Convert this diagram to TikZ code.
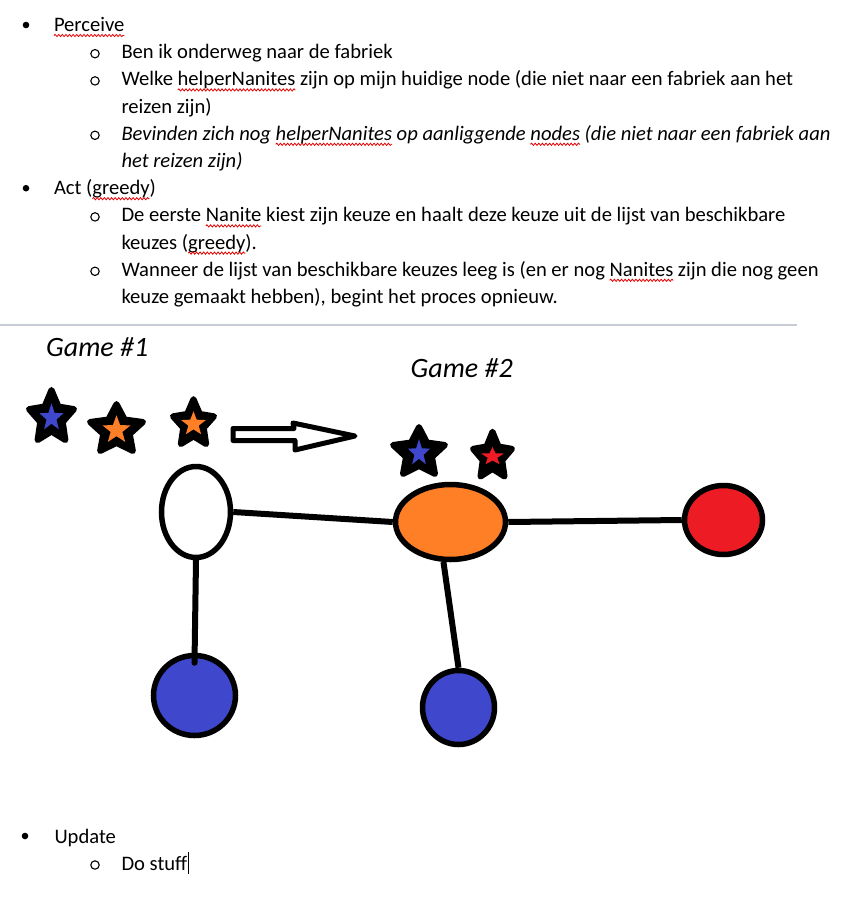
\documentclass[tikz,border=0pt]{standalone}
\usepackage{fontspec}
\setmainfont{Carlito}
\usetikzlibrary{shapes.geometric,decorations.pathmorphing}
\definecolor{pblue}{RGB}{63,72,204}
\definecolor{porange}{RGB}{255,127,39}
\definecolor{pred}{RGB}{237,28,36}
\definecolor{rulegray}{RGB}{200,205,213}
\definecolor{wavered}{RGB}{230,0,0}
\newcommand\bodyfont{\fontsize{20.6}{24}\selectfont}
\newcommand\ibodyfont{\fontsize{20.6}{24}\selectfont\itshape}
% cx cy R yscale r yscale-inner colour
\newcommand\nstar[7]{%
  \begin{scope}[shift={(#1,#2)}]
    \filldraw[black, line width=6pt, line join=round, yscale=#4]
      (-90:#3) -- (-54:{0.5*#3}) -- (-18:#3) -- (18:{0.5*#3}) -- (54:#3) --
      (90:{0.5*#3}) -- (126:#3) -- (162:{0.5*#3}) -- (198:#3) -- (234:{0.5*#3}) -- cycle;
    \fill[#7, yscale=#6]
      (-90:#5) -- (-54:{0.42*#5}) -- (-18:#5) -- (18:{0.42*#5}) -- (54:#5) --
      (90:{0.42*#5}) -- (126:#5) -- (162:{0.42*#5}) -- (198:#5) -- (234:{0.42*#5}) -- cycle;
  \end{scope}}
\tikzset{
  txt/.style={anchor=base west, inner sep=0pt, outer sep=0pt, font=\bodyfont},
  itxt/.style={txt, font=\ibodyfont},
  subo/.style={circle, draw=black, line width=1.1pt, inner sep=0pt, minimum size=8.4pt},
  bulletdot/.style={circle, fill=black, inner sep=0pt, minimum size=6.6pt},
  gamelbl/.style={anchor=base west, inner sep=0pt, font=\fontsize{28}{32}\selectfont\itshape},
  gnode/.style={ellipse, draw=black, line width=5.5pt, inner sep=0pt},
  edge/.style={line width=6pt, black},
  wavestyle/.style={wavered, line width=0.8pt, decorate,
    decoration={snake, amplitude=1.1pt, segment length=3.6pt}},
}
\newcommand\wavy[1]{\draw[wavestyle] ([yshift=-4pt]#1.base west) -- ([yshift=-4pt]#1.base east);}
\begin{document}
\begin{tikzpicture}[x=1pt, y=-1pt]
\useasboundingbox[fill=white] (0,0) rectangle (841,905);

% ---- text block ----
\node[bulletdot] (bu0) at (26,25) {};
\node[txt] (t0) at (54,31.5) {Perceive};

\node[subo] (o1) at (95,53.7) {};
\node[txt] (t1) at (121.5,58.7) {Ben ik onderweg naar de fabriek};

\node[subo] (o2) at (95,80.9) {};
\node[txt] (t2a) at (121.5,85.9) {Welke};
\node[txt] (t2b) at ([xshift=4.66pt]t2a.base east) {helperNanites};
\node[txt] (t2c) at ([xshift=4.66pt]t2b.base east) {zijn op mijn huidige node (die niet naar een fabriek aan het};
\node[txt] (t3) at (121.5,113.1) {reizen zijn)};

\node[subo] (o4) at (95,135.3) {};
\node[itxt] (t4a) at (121.5,140.3) {Bevinden zich nog};
\node[itxt] (t4b) at ([xshift=4.66pt]t4a.base east) {helperNanites};
\node[itxt] (t4c) at ([xshift=4.66pt]t4b.base east) {op aanliggende};
\node[itxt] (t4d) at ([xshift=4.66pt]t4c.base east) {nodes};
\node[itxt] (t4e) at ([xshift=4.66pt]t4d.base east) {(die niet naar een fabriek aan};
\node[itxt] (t5) at (121.5,167.5) {het reizen zijn)};

\node[bulletdot] (bu6) at (26,188.2) {};
\node[txt] (t6a) at (54,194.7) {Act (};
\node[txt] (t6b) at (t6a.base east) {greedy};
\node[txt] (t6c) at (t6b.base east) {)};

\node[subo] (o7) at (95,216.9) {};
\node[txt] (t7a) at (121.5,221.9) {De eerste};
\node[txt] (t7b) at ([xshift=4.66pt]t7a.base east) {Nanite};
\node[txt] (t7c) at ([xshift=4.66pt]t7b.base east) {kiest zijn keuze en haalt deze keuze uit de lijst van beschikbare};
\node[txt] (t8a) at (121.5,249.1) {keuzes (};
\node[txt] (t8b) at (t8a.base east) {greedy};
\node[txt] (t8c) at (t8b.base east) {).};

\node[subo] (o9) at (95,271.3) {};
\node[txt] (t9a) at (121.5,276.3) {Wanneer de lijst van beschikbare keuzes leeg is (en er nog};
\node[txt] (t9b) at ([xshift=4.66pt]t9a.base east) {Nanites};
\node[txt] (t9c) at ([xshift=4.66pt]t9b.base east) {zijn die nog geen};
\node[txt] (t10) at (121.5,303.5) {keuze gemaakt hebben), begint het proces opnieuw.};

% ---- spelling squiggles ----
\wavy{t0}
\wavy{t2b}
\wavy{t4b}
\wavy{t4d}
\wavy{t6b}
\wavy{t7b}
\wavy{t8b}
\wavy{t9b}

% ---- separator ----
\draw[rulegray, line width=1.3pt] (0,325) -- (797,325);

% ---- drawing ----
\node[gamelbl] (g1) at (46,356) {Game \#1};
\node[gamelbl] (g2) at (410.5,377) {Game \#2};

\nstar{51.5}{417.7}{23.7}{1.17}{12.5}{1.15}{pblue}
\nstar{116.5}{430}{27.9}{0.93}{14.7}{1.0}{porange}
\nstar{193.5}{424}{21.6}{1.15}{13}{0.98}{porange}
\nstar{419}{453}{27.3}{0.95}{11.6}{1.2}{pblue}
\nstar{492.5}{456.5}{20.5}{1.21}{12}{0.8}{pred}

\draw[line width=5pt, line join=round, fill=white]
  (233,428.5) -- (294,428.5) -- (293,423) -- (355,436) -- (295,450) -- (295,440.5) -- (233,440.5) -- cycle;

\node[gnode, fill=white, minimum width=69pt, minimum height=91pt] (w) at (196,512) {};
\node[gnode, fill=porange, minimum width=110pt, minimum height=75pt] (o) at (450.5,522) {};
\node[gnode, fill=pred, minimum width=78pt, minimum height=69pt] (r) at (723.5,520) {};
\node[gnode, fill=pblue, minimum width=82pt, minimum height=80pt] (b1) at (194.5,695.5) {};
\node[gnode, fill=pblue, minimum width=72pt, minimum height=74pt] (b2) at (458.5,707.5) {};

\draw[edge] (w.east) -- (o.west);
\draw[edge] (o.east) -- (r.west);
\draw[edge, line cap=round] (w.south) -- ([yshift=-10pt]b1.north);
\draw[edge] (o.-100) -- (b2.north);

% ---- bottom text ----
\node[bulletdot] (bu11) at (25,836) {};
\node[txt] (t11) at (54.5,843) {Update};
\node[subo] (o12) at (95,865) {};
\node[txt] (t12) at (121.5,870) {Do stuff};
\node[anchor=base west, inner sep=0pt] (cursor) at (187.7,870) {\rule[-4.3pt]{1.2pt}{22.6pt}};
\end{tikzpicture}
\end{document}
